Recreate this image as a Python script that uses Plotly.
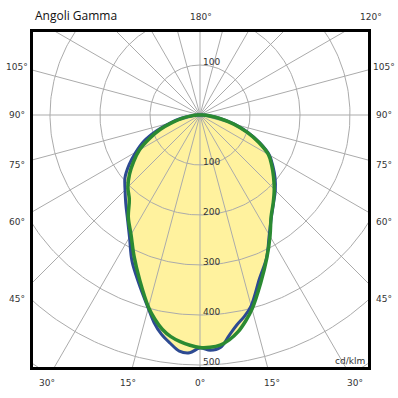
import numpy as np
import plotly.graph_objects as go

# Gamma angles (deg, 0 = straight down) and luminous intensity (cd/klm)
gamma = [0, 2.5, 5, 7.5, 10, 12.5, 15, 20, 25, 30, 35, 40, 45, 50, 55, 60, 65, 70, 75, 80, 85, 90]
# blue curve (C0 / C180 plane)
c0_right = [466, 471, 467, 445, 426, 412, 395, 348, 315, 277, 249, 229, 213, 196, 178, 160, 132, 102, 72, 42, 18, 5]
c180_left = [466, 476, 474, 460, 445, 425, 400, 358, 322, 282, 253, 231, 212, 196, 173, 148, 124, 93, 62, 38, 16, 5]
# green curve (C90 / C270 plane)
c90_right = [465, 465, 462, 453, 440, 422, 402, 356, 316, 280, 248, 228, 210, 192, 175, 158, 130, 100, 70, 40, 18, 5]
c270_left = [465, 461, 455, 447, 435, 418, 398, 352, 312, 276, 250, 220, 204, 184, 162, 140, 112, 85, 57, 35, 15, 5]

grid_radii = [100, 200, 300, 400, 500, 600]
spoke_angles = list(range(0, 360, 15))
radial_labels = ["100", "200", "300", "400", "500"]

side_labels = ["105°", "90°", "75°", "60°", "45°"]
side_label_py = [67, 115, 165, 222, 299]
bottom_labels = ["30°", "15°", "0°", "15°", "30°"]
bottom_label_px = [47, 128, 200, 272, 355]

BLUE = "#2D4A92"
GREEN = "#2B8A32"
FILL = "#FFF29E"
GRID = "#ABABAB"


def outline(right, left):
    g = np.radians(gamma)
    r_r = np.array(right, float)
    r_l = np.array(left, float)
    xr, yr = r_r * np.sin(g), -r_r * np.cos(g)
    xl, yl = -r_l * np.sin(g), -r_l * np.cos(g)
    x = np.concatenate([xr[::-1], xl[1:], xr[-1:]])
    y = np.concatenate([yr[::-1], yl[1:], yr[-1:]])
    return x, y


bx, by = outline(c0_right, c180_left)
gx, gy = outline(c90_right, c270_left)

fig = go.Figure()
for x, y in [(bx, by), (gx, gy)]:
    fig.add_trace(go.Scatter(x=x, y=y, mode="lines", fill="toself", fillcolor=FILL,
                             line=dict(width=0, color=FILL, shape="spline"), hoverinfo="skip"))

# grid circles
t = np.linspace(0, 2 * np.pi, 361)
cx, cy = [], []
for r in grid_radii:
    cx += list(r * np.sin(t)) + [None]
    cy += list(r * np.cos(t)) + [None]
fig.add_trace(go.Scatter(x=cx, y=cy, mode="lines", line=dict(color=GRID, width=1), hoverinfo="skip"))

# spokes
sx, sy = [], []
for a in spoke_angles:
    ar = np.radians(a)
    sx += [0, 700 * np.sin(ar), None]
    sy += [0, -700 * np.cos(ar), None]
fig.add_trace(go.Scatter(x=sx, y=sy, mode="lines", line=dict(color=GRID, width=1), hoverinfo="skip"))

fig.add_trace(go.Scatter(x=bx, y=by, mode="lines", line=dict(color=BLUE, width=3, shape="spline"), hoverinfo="skip"))
fig.add_trace(go.Scatter(x=gx, y=gy, mode="lines", line=dict(color=GREEN, width=3.5, shape="spline"), hoverinfo="skip"))

# plot box in pixels: x 33..368, y 32..367 ; centre at px (200,115), 0.5 px per cd/klm
L, R, T, B = 33, 368, 32, 367


def dx(px):
    return (px - 200) * 2


def dy(py):
    return (115 - py) * 2


def pxp(px):
    return (px - L) / (R - L)


def pyp(py):
    return (B - py) / (B - T)


ann = []
lab_font = dict(family="DejaVu Sans", size=9, color="#333333")


def paper_text(txt, px, py, xanchor="center", font=lab_font):
    return dict(x=pxp(px), y=pyp(py), xref="paper", yref="paper", text=txt, showarrow=False,
                xanchor=xanchor, yanchor="middle", font=font)


ann.append(paper_text("Angoli Gamma", 33, 16, "left", dict(family="Open Sans", size=12, color="#111111")))
ann.append(paper_text("180°", 201, 17))
ann.append(paper_text("120°", 371, 17))
for txt, py in zip(side_labels, side_label_py):
    ann.append(paper_text(txt, 17, py))
    ann.append(paper_text(txt, 384, py))
for txt, px in zip(bottom_labels, bottom_label_px):
    ann.append(paper_text(txt, px, 383))
# radial value labels
ann.append(dict(x=2, y=100 + 6, text="100", showarrow=False, xanchor="left", font=lab_font))
for txt in radial_labels:
    v = float(txt)
    ann.append(dict(x=2, y=-v + 6, text=txt, showarrow=False, xanchor="left", font=lab_font))
ann.append(paper_text("cd/klm", 367, 361, "right"))

fig.update_layout(
    width=398, height=398,
    margin=dict(l=L, r=398 - R, t=T, b=398 - B),
    paper_bgcolor="white", plot_bgcolor="white",
    showlegend=False,
    annotations=ann,
    xaxis=dict(range=[dx(L), dx(R)], showgrid=False, zeroline=False, showticklabels=False, ticks="",
               showline=True, mirror=True, linecolor="black", linewidth=3),
    yaxis=dict(range=[dy(B), dy(T)], showgrid=False, zeroline=False, showticklabels=False, ticks="",
               showline=True, mirror=True, linecolor="black", linewidth=3),
)

fig.write_html("out.html", config={"displayModeBar": False},
               post_script="document.body.style.margin='0';document.body.style.padding='0';")
